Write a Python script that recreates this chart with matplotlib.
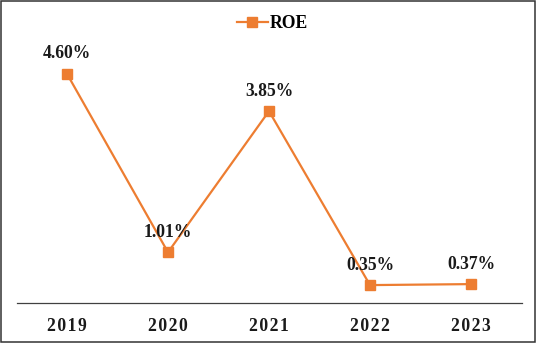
import matplotlib
matplotlib.use("Agg")
import matplotlib.pyplot as plt
from matplotlib.patches import Rectangle

years = ["2019", "2020", "2021", "2022", "2023"]
roe = [4.60, 1.01, 3.85, 0.35, 0.37]
labels = ["4.60%", "1.01%", "3.85%", "0.35%", "0.37%"]

orange = "#ED7D31"
plt.rcParams["font.family"] = ["Liberation Serif", "DejaVu Serif"]
plt.rcParams["font.weight"] = "bold"

fig = plt.figure(figsize=(5.43, 3.48), dpi=100)
ax = fig.add_axes([16.5 / 543, 1 - 302.5 / 348, 505 / 543, 273.4 / 348])

x = list(range(len(years)))
ax.plot(x, roe, color=orange, lw=1.6, marker="s", ms=6.5, label="ROE")

for xi, v, t in zip(x, roe, labels):
    ax.annotate(t, (xi, v), xytext=(0, 14.4), textcoords="offset points",
                ha="center", va="center", fontsize=12.7, fontweight="bold",
                color="#1a1a1a")

ax.set_xlim(-0.5, len(years) - 0.5)
ax.set_ylim(0, 5.5)
ax.set_xticks(x)
ax.set_xticklabels(["\u200a".join(y) for y in years], fontsize=12.7,
                   fontweight="bold", color="#1a1a1a")
ax.tick_params(axis="x", length=0, pad=11)
ax.set_yticks([])
for s in ["top", "left", "right"]:
    ax.spines[s].set_visible(False)
ax.spines["bottom"].set_color("#404040")
ax.spines["bottom"].set_linewidth(0.9)

fig.legend(loc="center", bbox_to_anchor=(272.5 / 543, 1 - 24 / 348),
           frameon=False, prop={"size": 12.7, "weight": "bold"},
           handlelength=1.75, handletextpad=0.1)

# outer frame
fig.patches.append(Rectangle((1 / 543, 1 - 342 / 348), 534 / 543, 341 / 348,
                             transform=fig.transFigure, fill=False,
                             edgecolor="#333333", lw=1.1))

fig.savefig("out.png", dpi=100)
